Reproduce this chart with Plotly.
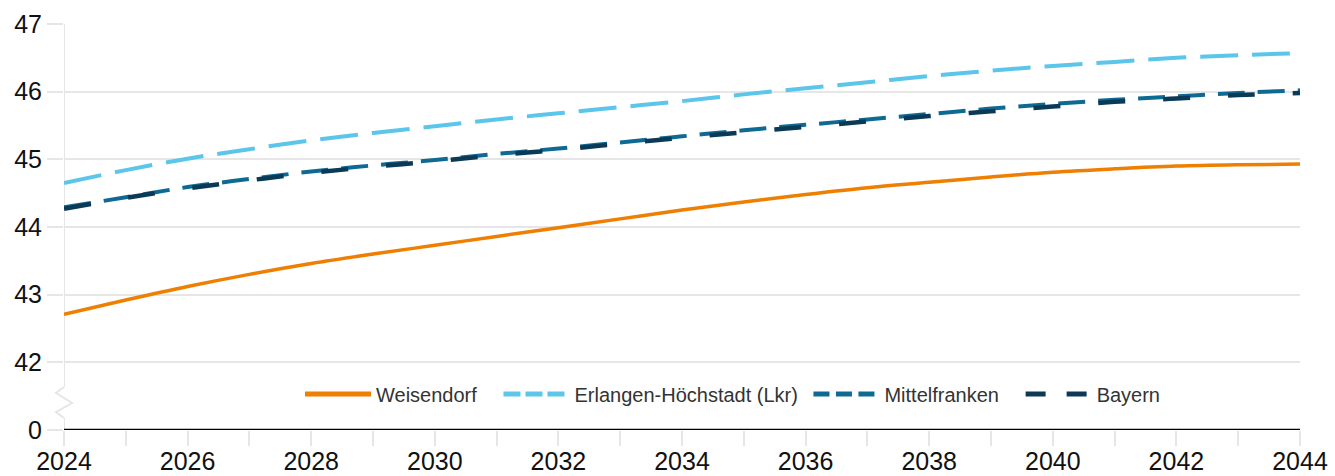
import plotly.graph_objects as go

years = list(range(2024, 2045))
weisendorf = [42.71, 42.92, 43.12, 43.30, 43.46, 43.60, 43.73, 43.86, 43.99, 44.12, 44.25,
              44.37, 44.48, 44.58, 44.66, 44.74, 44.81, 44.86, 44.90, 44.92, 44.93]
erlangen = [44.65, 44.84, 45.01, 45.15, 45.28, 45.39, 45.49, 45.59, 45.68, 45.77, 45.86,
            45.96, 46.05, 46.14, 46.23, 46.31, 46.38, 46.44, 46.50, 46.54, 46.57]
mittelfranken = [44.29, 44.44, 44.59, 44.71, 44.82, 44.91, 44.99, 45.08, 45.16, 45.25, 45.34,
                 45.43, 45.51, 45.59, 45.67, 45.75, 45.82, 45.88, 45.93, 45.98, 46.02]
bayern = [44.27, 44.43, 44.57, 44.69, 44.80, 44.89, 44.97, 45.06, 45.14, 45.23, 45.32,
          45.40, 45.48, 45.56, 45.64, 45.71, 45.78, 45.85, 45.90, 45.95, 45.98]

series_names = ["Weisendorf", "Erlangen-Höchstadt (Lkr)", "Mittelfranken", "Bayern"]
x_tick_vals = list(range(2024, 2045, 2))
y_tick_vals = [41, 42, 43, 44, 45, 46, 47]
y_tick_text = ["0", "42", "43", "44", "45", "46", "47"]

GRID = "#e6e6e6"
NB = "\u00a0"

fig = go.Figure()
styles = [
    (weisendorf, "#EE7F00", "solid", 3.5, "solid", 3),
    (erlangen, "#5BC5EA", "38px,14px", 4, "17px,5px", 1),
    (mittelfranken, "#0F6A93", "27px,13px", 4, "16px,6.5px", 3),
    (bayern, "#0A3A55", "27px,38px", 4.5, "20px,21px", 0),
]
for name, (vals, col, dash, w, ldash, pad) in zip(series_names, styles):
    fig.add_trace(go.Scatter(x=years, y=vals, mode="lines", name=name, showlegend=False,
                             line=dict(color=col, dash=dash, width=w, shape="spline"),
                             cliponaxis=False))
for name, (vals, col, dash, w, ldash, pad) in zip(series_names, styles):
    fig.add_trace(go.Scatter(x=[None], y=[None], mode="lines", name=name + NB * pad,
                             line=dict(color=col, dash=ldash, width=5)))

shapes = []
# y axis line with break
shapes.append(dict(type="line", xref="x", yref="y", x0=2024, x1=2024, y0=41.636, y1=47,
                   line=dict(color=GRID, width=2), layer="below"))
shapes.append(dict(type="line", xref="x", yref="y", x0=2024, x1=2024, y0=41, y1=41.178,
                   line=dict(color=GRID, width=2), layer="below"))
px = 8 / 1236
shapes.append(dict(type="path", xref="paper", yref="paper",
                   path=f"M 0,0.106 L {-px},0.0912 L {px},0.0665 L {-px},0.0443 L 0,0.0297",
                   line=dict(color=GRID, width=2), layer="below"))
# zero line
shapes.append(dict(type="line", xref="x", yref="y", x0=2024, x1=2044, y0=41, y1=41,
                   line=dict(color="black", width=2.5)))

fig.update_layout(
    width=1335, height=476,
    margin=dict(l=64, r=35, t=24, b=46),
    plot_bgcolor="white", paper_bgcolor="white",
    shapes=shapes,
    showlegend=True,
    legend=dict(orientation="h", x=(300 - 64) / 1236, y=(430 - 394) / 406, xanchor="left", yanchor="middle",
                font=dict(family="Liberation Sans, Arial, sans-serif", size=20, color="#333"),
                itemwidth=66, bgcolor="rgba(0,0,0,0)", traceorder="normal"),
    xaxis=dict(range=[2024, 2044], tickvals=x_tick_vals, ticktext=[str(v) for v in x_tick_vals],
               showgrid=False, zeroline=False, showline=False, automargin=False,
               ticks="outside", ticklen=15, tickcolor=GRID, tickwidth=2, ticklabelstandoff=-6,
               minor=dict(dtick=1, tick0=2024, ticks="outside", ticklen=15, tickcolor=GRID, tickwidth=2, showgrid=False),
               tickfont=dict(family="Liberation Sans, Arial, sans-serif", size=25, color="#111")),
    yaxis=dict(range=[41, 47], tickvals=y_tick_vals, ticktext=y_tick_text, automargin=False,
               showgrid=True, gridcolor=GRID, gridwidth=2, zeroline=False, showline=False,
               ticks="outside", ticklen=16, tickcolor=GRID, tickwidth=2,
               tickfont=dict(family="Liberation Sans, Arial, sans-serif", size=25, color="#111")),
)

fig.write_html("out.html", config={"displayModeBar": False},
               post_script="document.body.style.margin='0';document.body.style.overflow='hidden';")
